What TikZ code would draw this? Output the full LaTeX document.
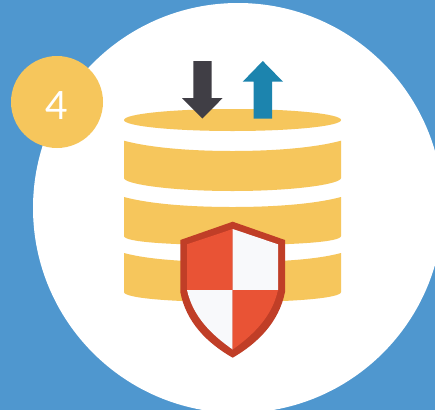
\documentclass[tikz,border=0pt]{standalone}
\usepackage{fontspec}
\setmainfont{Lato}
\definecolor{bgblue}{HTML}{4F97CF}
\definecolor{gold}{HTML}{F6C65C}
\definecolor{darkarrow}{HTML}{403E45}
\definecolor{bluearrow}{HTML}{1C84AE}
\definecolor{shieldred}{HTML}{E95335}
\definecolor{shieldedge}{HTML}{C03E27}
\definecolor{shieldwhite}{HTML}{F8F9FB}
\newcommand{\dbband}[4]{%
  \fill[gold] (124,#1) .. controls (150,{#1+7}) and (190,#2) .. (232.5,#2)
    .. controls (275,#2) and (315,{#1+7}) .. (341,#1)
    -- (341,#3) .. controls (341,{#3+6}) and (295,#4) .. (232.5,#4)
    .. controls (170,#4) and (124,{#3+6}) .. (124,#3) -- cycle;}
\begin{document}
\begin{tikzpicture}[x=1pt,y=-1pt]
\useasboundingbox (0,0) rectangle (435,410);
\fill[bgblue] (0,0) rectangle (435,410);
\clip (0,0) rectangle (435,410);
\fill[white] (238,208) circle[radius=205];
\node[circle,fill=gold,minimum size=92pt,inner sep=0pt] (badge) at (57,102) {};
\node[inner sep=0pt,text=white,font=\fontsize{39}{39}\selectfont] (digit) at (57,105.5) {4};
% database
\fill[gold] (232.5,120) ellipse[x radius=108.5,y radius=11];
\dbband{140.7}{151}{178}{191}
\dbband{197}{207}{236}{245}
\dbband{253}{262}{292}{302}
% arrows
\fill[darkarrow] (193.3,61) -- (211.7,61) -- (211.7,98) -- (222.7,98) -- (202.4,118.5) -- (182,98) -- (193.3,98) -- cycle;
\fill[bluearrow] (253.7,118.5) -- (272,118.5) -- (272,81.7) -- (283,81.7) -- (262.8,61) -- (242.7,81.7) -- (253.7,81.7) -- cycle;
% shield
\fill[shieldedge] (232.7,221.7) -- (285,240) -- (285,292)
  .. controls (279,322) and (258,343) .. (232.7,357.7)
  .. controls (207,343) and (186,322) .. (180.3,292) -- (180.3,240) -- cycle;
\fill[shieldred] (232.7,229) -- (187,244.3) -- (187,290) -- (232.7,290) -- cycle;
\fill[shieldwhite] (232.7,229) -- (278,244.3) -- (278,290) -- (232.7,290) -- cycle;
\fill[shieldwhite] (187,290) -- (232.7,290) -- (232.7,349.5)
  .. controls (212,335) and (193,317) .. (187,290) -- cycle;
\fill[shieldred] (278,290) -- (232.7,290) -- (232.7,349.5)
  .. controls (253,335) and (272,317) .. (278,290) -- cycle;
\end{tikzpicture}
\end{document}
